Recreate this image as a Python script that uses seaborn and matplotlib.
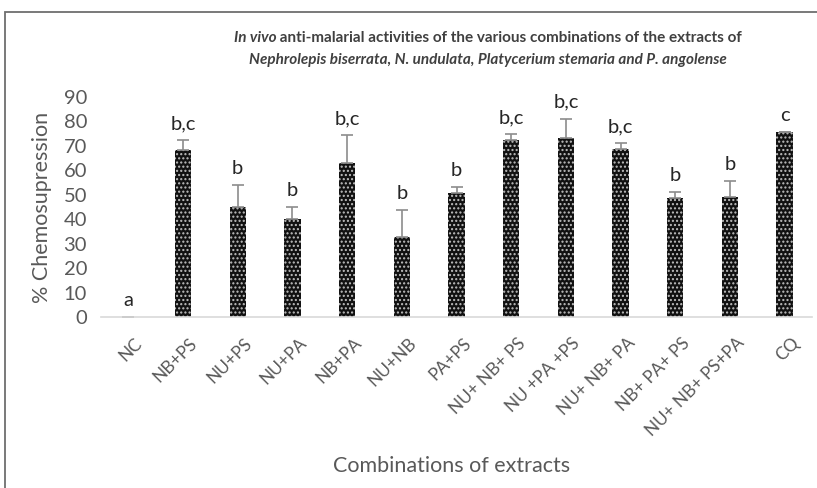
import numpy as np
import matplotlib
matplotlib.use("Agg")
import matplotlib.pyplot as plt
import matplotlib.transforms as mtransforms
import seaborn as sns
from matplotlib.patches import Rectangle

# data
categories = ["NC", "NB+PS", "NU+PS", "NU+PA", "NB+PA", "NU+NB", "PA+PS",
              "NU+ NB+ PS", "NU +PA +PS", "NU+ NB+ PA", "NB+ PA+ PS",
              "NU+ NB+ PS+PA", "CQ"]
means = [0, 68.3, 45.2, 40.2, 63.2, 32.8, 50.8, 72.4, 73.4, 68.9, 48.6, 49.1, 75.7]
errors = [0, 4.1, 8.8, 5.0, 11.1, 11.1, 2.2, 2.5, 7.7, 2.3, 2.6, 6.4, 0]
letters = ["a", "b,c", "b", "b", "b,c", "b", "b", "b,c", "b,c", "b,c", "b", "b", "c"]

sns.set_style("white")
plt.rcParams['font.family'] = ['Lato', 'DejaVu Sans']
plt.rcParams['hatch.linewidth'] = 1.0
grey = "#595959"

W, H = 817, 488
fig = plt.figure(figsize=(W / 100, H / 100), dpi=100)
ax = fig.add_axes([101 / W, 1 - 317 / H, (812 - 101) / W, (317 - 97) / H])

sns.barplot(x=categories, y=means, color="#111111", width=0.3,
            errorbar=None, ax=ax)
for p in ax.patches:
    p.set_hatch("....")
    p.set_edgecolor("#c0c0c0")
    p.set_linewidth(0)

x = np.arange(len(categories))
ax.errorbar(x, means, yerr=[np.zeros(len(errors)), errors], fmt="none",
            ecolor="#8c8c8c", elinewidth=1.2, capsize=4, capthick=1.2)

for xi, m, e, lab in zip(x, means, errors, letters):
    ax.text(xi, m + e + 4.5, lab, ha="center", va="baseline",
            fontsize=14.5, color="#262626")

ax.set_ylim(0, 90)
ax.set_xlim(-0.5, len(categories) - 0.5)
ax.set_yticks(range(0, 91, 10))
ax.tick_params(axis="y", labelsize=14.5, labelcolor=grey, length=0, pad=10)
ax.tick_params(axis="x", labelsize=12.5, labelcolor=grey, length=0, pad=13)
shift = mtransforms.ScaledTranslation(6 / 100, 0, fig.dpi_scale_trans)
for lbl in ax.get_xticklabels():
    lbl.set_rotation(45)
    lbl.set_ha("right")
    lbl.set_rotation_mode("anchor")
    lbl.set_transform(lbl.get_transform() + shift)
for s in ["left", "top", "right"]:
    ax.spines[s].set_visible(False)
ax.spines["bottom"].set_color("#d9d9d9")
ax.spines["bottom"].set_linewidth(1.2)

ax.set_ylabel("% Chemosupression", fontsize=15.5, color=grey, labelpad=8)
ax.set_xlabel("Combinations of extracts", fontsize=15.5, color=grey, va="center")
ax.xaxis.set_label_coords((452 - 101) / 711, (317 - 466) / 220)

# title with mixed italic, centred on one point
cx = 488 / W
t_style = dict(fontsize=11, fontweight="bold", color="#404040")
a = fig.text(0, 1 - 38 / H, "In vivo", fontstyle="italic", va="center", **t_style)
b = fig.text(0, 1 - 38 / H, " anti-malarial activities of the various combinations of the extracts of",
             va="center", **t_style)
fig.text(cx, 1 - 60 / H,
         "Nephrolepis biserrata, N. undulata, Platycerium stemaria and P. angolense",
         fontstyle="italic", ha="center", va="center", **t_style)
fig.canvas.draw()
r = fig.canvas.get_renderer()
wa = a.get_window_extent(r).width / W
wb = b.get_window_extent(r).width / W
start = cx - (wa + wb) / 2
a.set_x(start)
b.set_x(start + wa)

# outer frame of the chart area
fig.patches.append(Rectangle((5 / W, -0.1), 1.1, 1 - 12 / H + 0.1,
                             transform=fig.transFigure, fill=False,
                             edgecolor="#6e6e6e", linewidth=1.3))

fig.savefig("out.png", dpi=100)
